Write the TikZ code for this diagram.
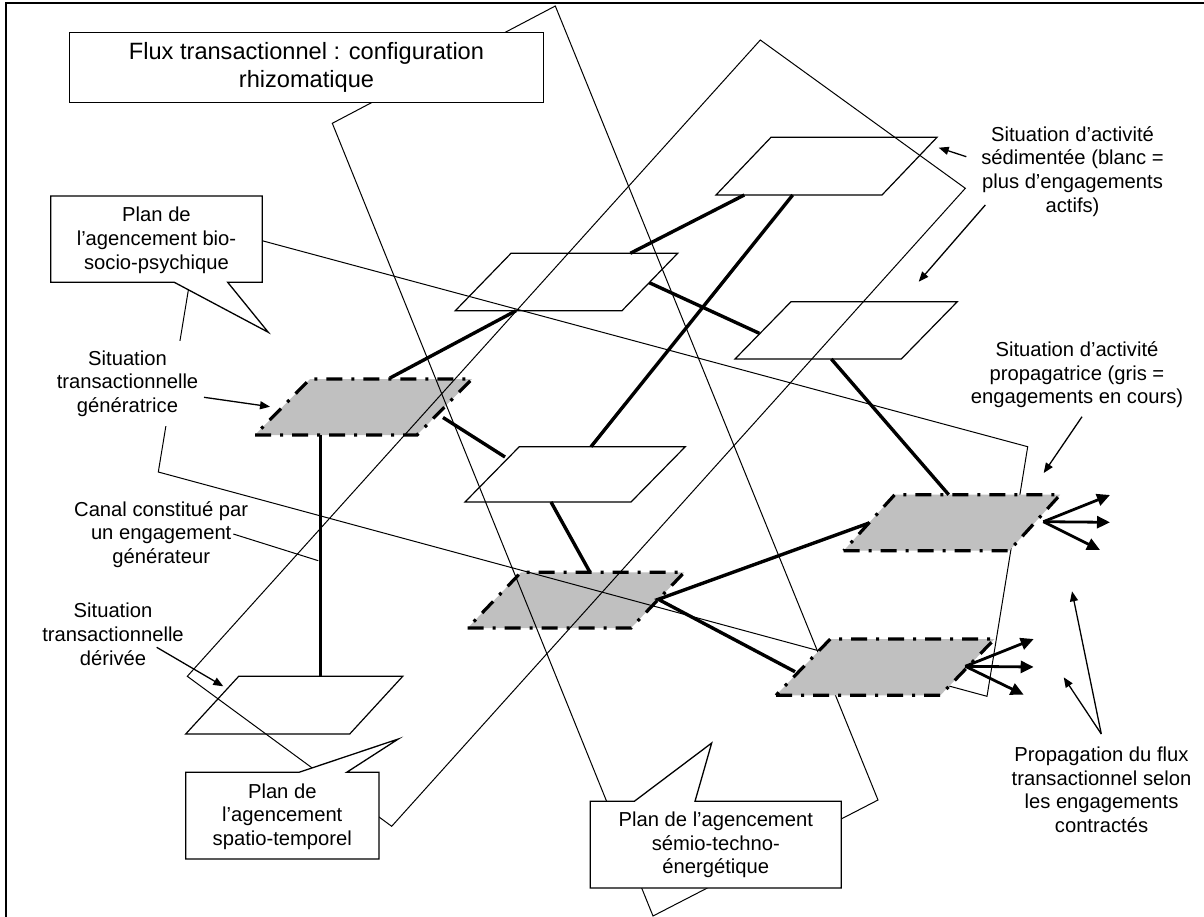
\documentclass[tikz,border=0pt]{standalone}
\usepackage{fontspec}
\setmainfont{Liberation Sans}
\usetikzlibrary{arrows.meta}
\definecolor{sitgray}{RGB}{192,192,192}
\newcommand\situ[6]{%
  \coordinate (#1bl) at (#2,#3);
  \coordinate (#1br) at (#2+#4,#3);
  \coordinate (#1tr) at (#2+#4+#5,#3-#6);
  \coordinate (#1tl) at (#2+#5,#3-#6);
}
\tikzset{
  plane/.style={draw=black, line width=1pt, line join=miter},
  whitesit/.style={draw=black, line width=1.2pt, line join=miter},
  grayfill/.style={fill=sitgray},
  grayedge/.style={draw=black, line width=3.2pt, dash pattern=on 16pt off 9pt on 3pt off 9pt},
  link/.style={draw=black, line width=3.4pt},
  outarrow/.style={draw=black, line width=2.8pt, -{Triangle[length=13pt,width=12pt]}},
  labarrow/.style={draw=black, line width=1.3pt, -{Triangle[length=10pt,width=8pt]}},
  leader/.style={draw=black, line width=1pt},
  lab/.style={align=center, font=\fontsize{20.2pt}{23.7pt}\selectfont, inner sep=0pt},
  callout/.style={draw=black, fill=white, line width=1.3pt, line join=miter},
}
\begin{document}
\begin{tikzpicture}[x=1pt,y=-1pt]
\fill[white] (0,0) rectangle (1204,917);
\useasboundingbox (0,0) rectangle (1204,917);

% situations (parallelograms)
\situ{pa}{716}{195}{166}{55}{57.7}
\situ{pb}{455.3}{310.7}{166.7}{55.7}{57.4}
\situ{pc}{735}{359}{166.3}{56}{57.3}
\situ{pd}{465}{502}{166}{54.3}{55.3}
\situ{pe}{255}{435}{162}{55}{56}
\situ{pf}{467.7}{628}{163.3}{53.3}{55.7}
\situ{pg}{843.7}{550.7}{165.5}{51}{56}
\situ{ph}{776}{695.3}{164.3}{54.3}{56.3}
\situ{pi}{185.7}{734}{164}{53}{57.7}

% gray situations lying under the planes
\fill[grayfill] (pebl) -- (pebr) -- (petr) -- (petl) -- cycle;
\fill[grayfill] (pfbl) -- (pfbr) -- (pftr) -- (pftl) -- cycle;

% the three planes
\draw[plane] (555.3,6) -- (878,800) -- (653,916) -- (332.3,123.3) -- cycle;
\draw[plane] (760.3,40) -- (965.3,188.3) -- (391.7,826.3) -- (187.3,676.3) -- cycle;
\draw[plane] (199.3,223.8) -- (1027.7,446.7) -- (987,696.3) -- (158.3,472) -- cycle;

% gray situations lying over the planes
\fill[grayfill] (pgbl) -- (pgbr) -- (pgtr) -- (pgtl) -- cycle;
\fill[grayfill] (phbl) -- (phbr) -- (phtr) -- (phtl) -- cycle;

% borders of gray situations
\foreach \p in {pe,pf,pg,ph}{
  \draw[grayedge] (\p bl) -- (\p br) -- (\p tr) -- (\p tl) -- cycle;
}
% white situations
\foreach \p in {pa,pb,pc,pd,pi}{
  \draw[whitesit] (\p bl) -- (\p br) -- (\p tr) -- (\p tl) -- cycle;
}

% links between situations
\coordinate (l1a) at (390,378);     \coordinate (l1b) at (516,310.7);
\coordinate (l2a) at (630.3,253.3); \coordinate (l2b) at (744.3,195);
\coordinate (l3a) at (649.3,282.7); \coordinate (l3b) at (759.3,333.3);
\coordinate (l4a) at (591,446.7);   \coordinate (l4b) at (792.7,195);
\coordinate (l5a) at (443,417.5);   \coordinate (l5b) at (505,457);
\coordinate (l6a) at (551,502);     \coordinate (l6b) at (590,572.3);
\coordinate (l7a) at (320.7,435);   \coordinate (l7b) at (320.7,676.3);
\coordinate (l8a) at (831.3,359);   \coordinate (l8b) at (948.7,494.7);
\coordinate (l9a) at (658.3,599.3); \coordinate (l9b) at (868.3,523.3);
\coordinate (l10b) at (795,671.7);
\draw[link] (l1a) -- (l1b);
\draw[link] (l2a) -- (l2b);
\draw[link] (l3a) -- (l3b);
\draw[link] (l4a) -- (l4b);
\draw[link] (l5a) -- (l5b);
\draw[link] (l6a) -- (l6b);
\draw[link] (l7a) -- (l7b);
\draw[link] (l8a) -- (l8b);
\draw[link, line join=miter] (l9b) -- (l9a) -- (l10b);

% propagation arrows
\coordinate (og) at (1043.3,521.7);
\coordinate (og1) at (1110,495);
\coordinate (og2) at (1110,522.3);
\coordinate (og3) at (1100,550);
\coordinate (oh) at (965.3,666.3);
\coordinate (oh1) at (1033.7,639);
\coordinate (oh2) at (1033.7,667);
\coordinate (oh3) at (1023.7,694.7);
\draw[outarrow] (og) -- (og1);
\draw[outarrow] (og) -- (og2);
\draw[outarrow] (og) -- (og3);
\draw[outarrow] (oh) -- (oh1);
\draw[outarrow] (oh) -- (oh2);
\draw[outarrow] (oh) -- (oh3);

% title
\node[draw=black, fill=white, line width=1.3pt, minimum width=474.4pt, minimum height=70pt,
      inner sep=0pt, align=center, font=\fontsize{23.6pt}{28.3pt}\selectfont]
      (title) at (306.5,67.3) {Flux transactionnel : configuration\\rhizomatique};

% callouts
\draw[callout] (50.7,196) -- (262.3,196) -- (262.3,282.3) -- (227.7,282.3) -- (268.3,332.3)
  -- (174.3,282.3) -- (50.7,282.3) -- cycle;
\node[lab] (bio) at (156.5,240.2) {Plan de\\l’agencement bio-\\socio-psychique};

\draw[callout] (185.7,772.3) -- (299,772.3) -- (398.3,739) -- (346.7,772.3) -- (379,772.3)
  -- (379,859) -- (185.7,859) -- cycle;
\node[lab] (spatio) at (282.3,816.5) {Plan de\\l’agencement\\spatio-temporel};

\draw[callout] (590.3,801.3) -- (634.3,801.3) -- (711.7,743) -- (695,801.3) -- (841.3,801.3)
  -- (841.3,888) -- (590.3,888) -- cycle;
\node[lab] (semio) at (715.8,845) {Plan de l’agencement\\sémio-techno-\\énergétique};

% labels
\node[lab, fill=white, inner xsep=3pt, inner ysep=9pt] (gen) at (127.5,383.5)
  {Situation\\transactionnelle\\génératrice};
\node[lab] (canal) at (161.2,534.5) {Canal constitué par\\un engagement\\générateur};
\node[lab] (deriv) at (113,634.1) {Situation\\transactionnelle\\dérivée};
\node[lab] (sedim) at (1072.5,171.5) {Situation d’activité\\sédimentée (blanc =\\plus d’engagements\\actifs)};
\node[lab] (propag) at (1077,374.8) {Situation d’activité\\propagatrice (gris =\\engagements en cours)};
\node[lab] (propa) at (1101.5,789.8) {Propagation du flux\\transactionnel selon\\les engagements\\contractés};

% label arrows
\coordinate (a1s) at (966.3,156.7);  \coordinate (a1e) at (938.7,147.7);
\coordinate (a2s) at (985.3,205);    \coordinate (a2e) at (918.7,281.7);
\coordinate (a3s) at (1082,416.7);   \coordinate (a3e) at (1043.7,473);
\coordinate (a4s) at (1101.3,734);   \coordinate (a4e) at (1072,591.3);
\coordinate (a5e) at (1063.7,677.3);
\coordinate (a6s) at (204,397.3);    \coordinate (a6e) at (270,406.7);
\coordinate (a7s) at (156.7,647.3);  \coordinate (a7e) at (223.3,686.3);
\coordinate (a8s) at (233.3,534);    \coordinate (a8e) at (318.3,560.7);
\draw[labarrow] (a1s) -- (a1e);
\draw[labarrow] (a2s) -- (a2e);
\draw[labarrow] (a3s) -- (a3e);
\draw[labarrow] (a4s) -- (a4e);
\draw[labarrow] (a4s) -- (a5e);
\draw[labarrow] (a6s) -- (a6e);
\draw[labarrow] (a7s) -- (a7e);
\draw[leader] (a8s) -- (a8e);

% frame
\draw[line width=2.2pt] (6.3,917) -- (6.3,3.4) -- (1204,3.4);
\end{tikzpicture}
\end{document}
